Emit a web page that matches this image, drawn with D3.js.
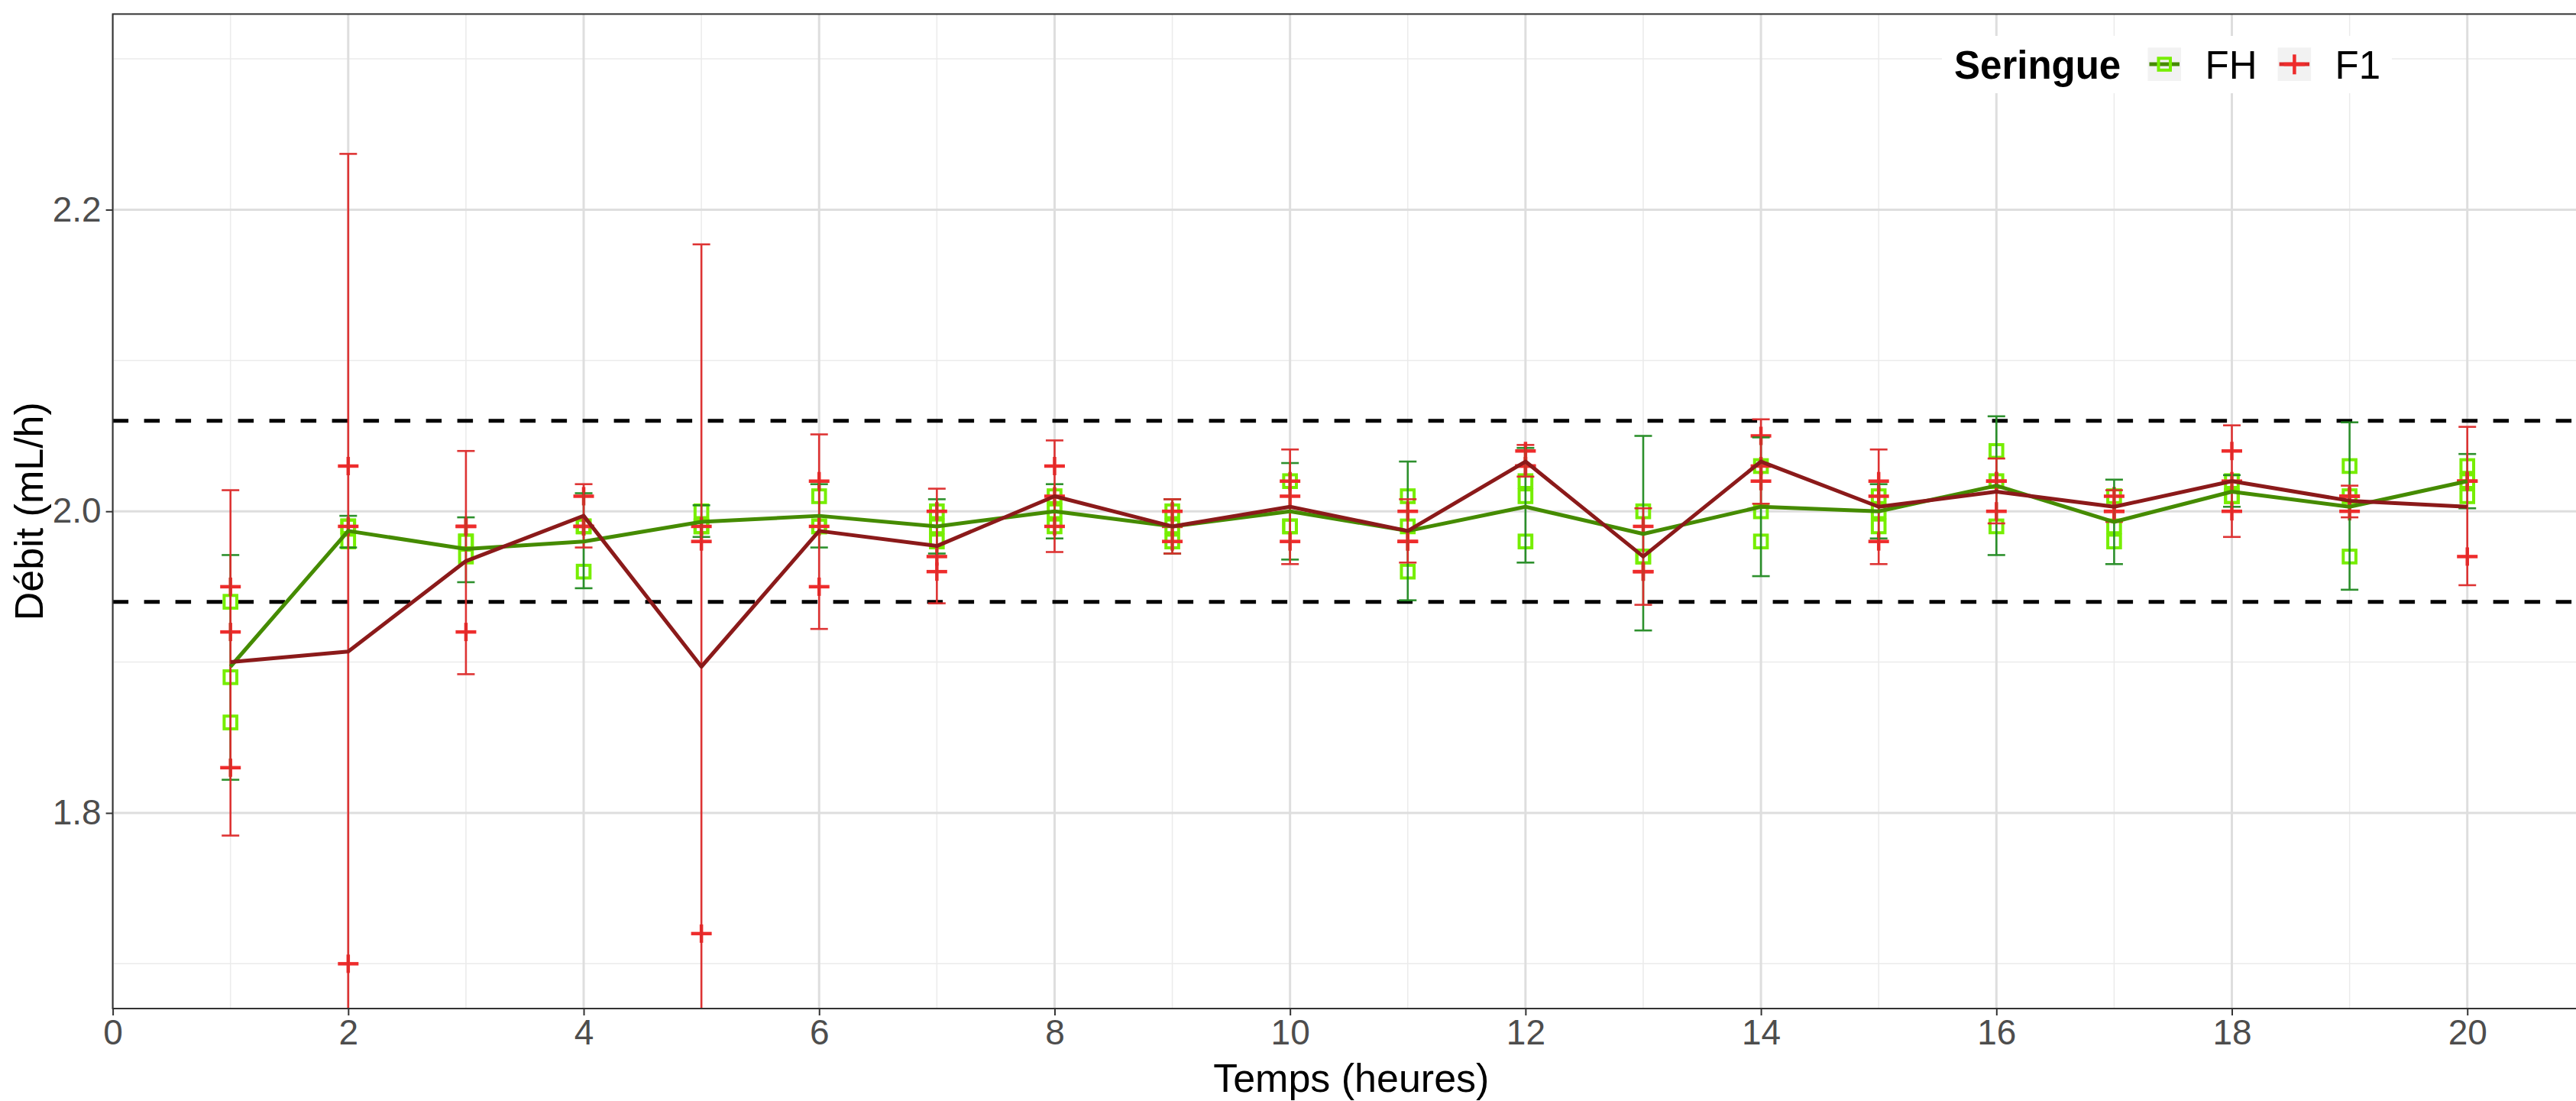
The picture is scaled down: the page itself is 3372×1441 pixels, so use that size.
<html>
    <head>
        <meta charset="utf-8">
        <script src="https://cdnjs.cloudflare.com/ajax/libs/d3/7.8.5/d3.min.js"></script>
        <style>
            body { margin: 0; background: white; }
            text { font-family: "Liberation Sans", Arial, sans-serif; }
        </style>
        <title>Débit seringues</title>
    </head>
    <body>
        <div id="chart"></div>
        <script>
            // values
            const hours = [1, 2, 3, 4, 5, 6, 7, 8, 9, 10, 11, 12, 13, 14, 15, 16, 17, 18, 19, 20];

            // individual measurements (3 per hour)
            const fhPoints = [
                [1.94, 1.89, 1.86], [1.99, 1.99, 1.98], [1.98, 1.98, 1.97], [1.99, 1.99, 1.96],
                [2.00, 1.99, 1.99], [2.01, 1.99, 1.99], [2.00, 1.99, 1.98], [2.01, 2.00, 1.99],
                [2.00, 1.99, 1.98], [2.02, 1.99, 1.99], [2.01, 1.99, 1.96], [2.02, 2.01, 1.98],
                [2.00, 1.97, 1.97], [2.03, 2.00, 1.98], [2.01, 2.00, 1.99], [2.04, 2.02, 1.99],
                [2.01, 1.99, 1.98], [2.02, 2.01, 2.01], [2.03, 2.01, 1.97], [2.03, 2.02, 2.01]
            ];
            const f1Points = [
                [1.95, 1.92, 1.83], [2.03, 1.99, 1.70], [1.99, 1.99, 1.92], [2.01, 1.99, 1.99],
                [1.99, 1.98, 1.72], [2.02, 1.99, 1.95], [2.00, 1.97, 1.96], [2.03, 2.01, 1.99],
                [2.00, 1.99, 1.98], [2.02, 2.01, 1.98], [2.00, 1.98, 1.98], [2.04, 2.03, 2.03],
                [1.99, 1.96, 1.96], [2.05, 2.03, 2.02], [2.02, 2.01, 1.98], [2.02, 2.02, 2.00],
                [2.01, 2.00, 2.00], [2.04, 2.02, 2.00], [2.01, 2.01, 2.00], [2.02, 2.02, 1.97]
            ];

            // mean line
            const fhMean = [1.897, 1.987, 1.975, 1.980, 1.993, 1.997, 1.990, 2.000, 1.990, 2.000,
                            1.987, 2.003, 1.985, 2.003, 2.000, 2.017, 1.993, 2.013, 2.003, 2.020];
            const f1Mean = [1.900, 1.907, 1.967, 1.997, 1.897, 1.987, 1.977, 2.010, 1.990, 2.003,
                            1.987, 2.033, 1.970, 2.033, 2.003, 2.013, 2.003, 2.020, 2.007, 2.003];

            // error bars
            const fhLow  = [1.822, 1.976, 1.953, 1.949, 1.983, 1.976, 1.972, 1.982, 1.972, 1.968,
                            1.941, 1.966, 1.921, 1.957, 1.982, 1.971, 1.965, 2.003, 1.948, 2.002];
            const fhHigh = [1.971, 1.997, 1.996, 2.012, 2.004, 2.018, 2.008, 2.018, 2.008, 2.032,
                            2.033, 2.042, 2.050, 2.049, 2.018, 2.063, 2.021, 2.024, 2.059, 2.038];
            const f1Low  = [1.785, 1.577, 1.892, 1.976, 1.616, 1.922, 1.939, 1.973, 1.972, 1.965,
                            1.966, 2.023, 1.938, 2.005, 1.965, 1.992, 1.993, 1.983, 1.996, 1.951];
            const f1High = [2.014, 2.237, 2.040, 2.018, 2.177, 2.051, 2.015, 2.047, 2.008, 2.041,
                            2.008, 2.044, 2.002, 2.061, 2.041, 2.035, 2.014, 2.057, 2.017, 2.056];

            const limits = [1.94, 2.06];
            const xTicks = [0, 2, 4, 6, 8, 10, 12, 14, 16, 18, 20];
            const xMinor = [1, 3, 5, 7, 9, 11, 13, 15, 17, 19, 21];
            const yTicks = [1.8, 2.0, 2.2];
            const yMinor = [1.7, 1.9, 2.1, 2.3];

            const width = 3372;
            const height = 1441;
            const panel = {left: 147.6, top: 18.4, right: 3390, bottom: 1320};

            const col = {
                fhPt: "#76EE00", fhErr: "#228B22", fhLine: "#458B00",
                f1Pt: "#EE2C2C", f1Err: "#DD2A2A", f1Line: "#8B1A1A"
            };

            const svg = d3.select("#chart").append("svg")
                          .attr("width", width)
                          .attr("height", height)

            const xScale = d3.scaleLinear()
                             .domain([0, 21.04])
                             .range([panel.left, panel.right])
            const yScale = d3.scaleLinear()
                             .domain([1.6703, 2.3297])
                             .range([panel.bottom, panel.top])

            svg.append("defs").append("clipPath")
               .attr("id", "panel-clip")
               .append("rect")
               .attr("x", panel.left)
               .attr("y", panel.top)
               .attr("width", panel.right - panel.left)
               .attr("height", panel.bottom - panel.top)

            // gridlines
            let grid = svg.append("g")
            grid.selectAll("line.ymin").data(yMinor)
                .join("line")
                .attr("x1", panel.left).attr("x2", panel.right)
                .attr("y1", d => yScale(d)).attr("y2", d => yScale(d))
                .attr("stroke", "#ebebeb").attr("stroke-width", 1.5)
            grid.selectAll("line.xmin").data(xMinor)
                .join("line")
                .attr("x1", d => xScale(d)).attr("x2", d => xScale(d))
                .attr("y1", panel.top).attr("y2", panel.bottom)
                .attr("stroke", "#ebebeb").attr("stroke-width", 1.5)
            grid.append("g").selectAll("line").data(yTicks)
                .join("line")
                .attr("x1", panel.left).attr("x2", panel.right)
                .attr("y1", d => yScale(d)).attr("y2", d => yScale(d))
                .attr("stroke", "#dedede").attr("stroke-width", 3)
            grid.append("g").selectAll("line").data(xTicks)
                .join("line")
                .attr("x1", d => xScale(d)).attr("x2", d => xScale(d))
                .attr("y1", panel.top).attr("y2", panel.bottom)
                .attr("stroke", "#dedede").attr("stroke-width", 3)

            // dashed limit lines
            svg.append("g").selectAll("line").data(limits)
               .join("line")
               .attr("x1", panel.left).attr("x2", panel.right)
               .attr("y1", d => yScale(d)).attr("y2", d => yScale(d))
               .attr("stroke", "black").attr("stroke-width", 5)
               .attr("stroke-dasharray", "20.5,20.5")

            let plot = svg.append("g").attr("clip-path", "url(#panel-clip)")

            // flatten the points
            const fhFlat = [];
            const f1Flat = [];
            hours.forEach((h, i) => {
                fhPoints[i].forEach(v => fhFlat.push({h: h, v: v}));
                f1Points[i].forEach(v => f1Flat.push({h: h, v: v}));
            })

            // FH squares
            plot.append("g").selectAll("rect").data(fhFlat)
                .join("rect")
                .attr("x", d => xScale(d.h) - 8.3)
                .attr("y", d => yScale(d.v) - 8.3)
                .attr("width", 16.6).attr("height", 16.6)
                .attr("fill", "none")
                .attr("stroke", col.fhPt).attr("stroke-width", 4)

            // F1 crosses
            let crosses = plot.append("g").selectAll("g").data(f1Flat)
                              .join("g")
                              .attr("transform", d => `translate(${xScale(d.h)}, ${yScale(d.v)})`)
            crosses.append("line").attr("x1", -13.5).attr("x2", 13.5).attr("y1", 0).attr("y2", 0)
                   .attr("stroke", col.f1Pt).attr("stroke-width", 4.5)
            crosses.append("line").attr("x1", 0).attr("x2", 0).attr("y1", -12).attr("y2", 12)
                   .attr("stroke", col.f1Pt).attr("stroke-width", 4.5)

            // error bars
            function errorBars(lo, hi, color) {
                let g = plot.append("g")
                            .attr("stroke", color)
                            .attr("stroke-width", 2.6)
                            .attr("opacity", 0.95)
                g.selectAll("line.v").data(hours)
                 .join("line")
                 .attr("x1", d => xScale(d)).attr("x2", d => xScale(d))
                 .attr("y1", (d, i) => yScale(lo[i])).attr("y2", (d, i) => yScale(hi[i]))
                g.selectAll("line.lo").data(hours)
                 .join("line")
                 .attr("x1", d => xScale(d) - 11.5).attr("x2", d => xScale(d) + 11.5)
                 .attr("y1", (d, i) => yScale(lo[i])).attr("y2", (d, i) => yScale(lo[i]))
                g.selectAll("line.hi").data(hours)
                 .join("line")
                 .attr("x1", d => xScale(d) - 11.5).attr("x2", d => xScale(d) + 11.5)
                 .attr("y1", (d, i) => yScale(hi[i])).attr("y2", (d, i) => yScale(hi[i]))
            }
            errorBars(fhLow, fhHigh, col.fhErr)
            errorBars(f1Low, f1High, col.f1Err)

            // mean lines
            let lineGen = d3.line()
                            .x(d => xScale(d[0]))
                            .y(d => yScale(d[1]))
            plot.append("path")
                .datum(hours.map((h, i) => [h, fhMean[i]]))
                .attr("fill", "none")
                .attr("stroke", col.fhLine)
                .attr("stroke-width", 5)
                .attr("stroke-linejoin", "round")
                .attr("d", lineGen)
            plot.append("path")
                .datum(hours.map((h, i) => [h, f1Mean[i]]))
                .attr("fill", "none")
                .attr("stroke", col.f1Line)
                .attr("stroke-width", 5)
                .attr("stroke-linejoin", "round")
                .attr("d", lineGen)

            // panel border
            svg.append("rect")
               .attr("x", panel.left).attr("y", panel.top)
               .attr("width", panel.right - panel.left)
               .attr("height", panel.bottom - panel.top)
               .attr("fill", "none")
               .attr("stroke", "#333333").attr("stroke-width", 2)

            // axes
            let bottomAxis = d3.axisBottom(xScale)
                               .tickValues(xTicks)
                               .tickSize(9)
                               .tickPadding(5)
                               .tickFormat(d => d)
            let xAxis = svg.append("g")
                           .attr("transform", `translate(0, ${panel.bottom})`)
                           .call(bottomAxis)
            let leftAxis = d3.axisLeft(yScale)
                             .tickValues(yTicks)
                             .tickSize(9)
                             .tickPadding(6)
                             .tickFormat(d3.format(".1f"))
            let yAxis = svg.append("g")
                           .attr("transform", `translate(${panel.left}, 0)`)
                           .call(leftAxis)
            ;[xAxis, yAxis].forEach(ax => {
                ax.select(".domain").remove()
                ax.selectAll(".tick line").attr("stroke", "#333333").attr("stroke-width", 2)
                ax.selectAll(".tick text")
                  .attr("fill", "#4d4d4d")
                  .style("font-size", "46px")
                  .style("font-family", "'Liberation Sans', Arial, sans-serif")
            })

            // axis titles
            svg.append("text")
               .attr("x", (panel.left + panel.right) / 2)
               .attr("y", 1429)
               .attr("text-anchor", "middle")
               .style("font-size", "52px")
               .text("Temps (heures)")
            svg.append("text")
               .attr("transform", `translate(56, ${(panel.top + panel.bottom) / 2}) rotate(-90)`)
               .attr("text-anchor", "middle")
               .style("font-size", "52px")
               .text("Débit (mL/h)")

            // legend
            let legend = svg.append("g")
            legend.append("rect")
                  .attr("x", 2542).attr("y", 47)
                  .attr("width", 589).attr("height", 75)
                  .attr("fill", "white")
            legend.append("text")
                  .attr("x", 2558).attr("y", 103)
                  .style("font-size", "51px").style("font-weight", "bold")
                  .text("Seringue")
            const keys = [
                {label: "FH", x: 2811.5, line: col.fhLine, pt: col.fhPt, shape: "square"},
                {label: "F1", x: 2981.6, line: col.f1Err, pt: col.f1Pt, shape: "cross"}
            ]
            let key = legend.selectAll("g.key").data(keys)
                            .join("g")
                            .attr("transform", d => `translate(${d.x}, 62.3)`)
            key.append("rect")
               .attr("width", 43.5).attr("height", 43.7)
               .attr("fill", "#f2f2f2")
            key.append("line")
               .attr("x1", 2).attr("x2", 41.5).attr("y1", 21.8).attr("y2", 21.8)
               .attr("stroke", d => d.line).attr("stroke-width", 5)
            key.filter(d => d.shape == "square").append("rect")
               .attr("x", 14).attr("y", 14).attr("width", 15.5).attr("height", 15.5)
               .attr("fill", "none").attr("stroke", d => d.pt).attr("stroke-width", 4)
            key.filter(d => d.shape == "cross").append("line")
               .attr("x1", 21.8).attr("x2", 21.8).attr("y1", 9).attr("y2", 35)
               .attr("stroke", d => d.pt).attr("stroke-width", 4.5)
            key.filter(d => d.shape == "cross").append("line")
               .attr("x1", 8).attr("x2", 35.5).attr("y1", 21.8).attr("y2", 21.8)
               .attr("stroke", d => d.pt).attr("stroke-width", 4.5)
            key.append("text")
               .attr("x", 75).attr("y", 40.7)
               .style("font-size", "51px")
               .text(d => d.label)
        </script>
    </body>
</html>
